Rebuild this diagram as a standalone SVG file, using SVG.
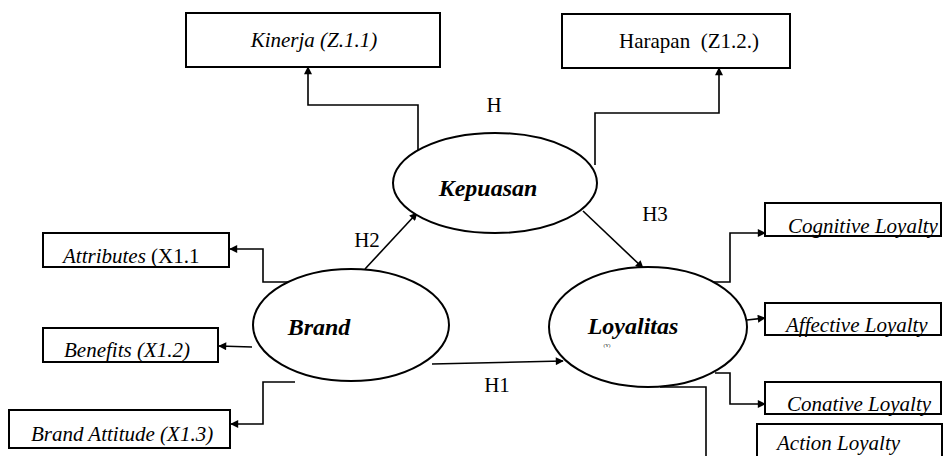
<svg xmlns="http://www.w3.org/2000/svg" width="944" height="456" viewBox="0 0 944 456">
  <defs>
    <marker id="arrow" viewBox="0 0 10 10" refX="9" refY="5" markerWidth="9" markerHeight="8" markerUnits="userSpaceOnUse" orient="auto">
      <path d="M0,0 L10,5 L0,10 z" fill="#000"/>
    </marker>
    <style>
      .box { fill: #fff; stroke: #000; stroke-width: 2; }
      .ell { fill: #fff; stroke: #000; stroke-width: 2; }
      .conn { fill: none; stroke: #000; stroke-width: 1.6; marker-end: url(#arrow); }
      .t { font-family: "Liberation Serif", "Times New Roman", serif; font-size: 21px; fill: #000; }
      .i { font-style: italic; }
      .b { font-weight: bold; font-style: italic; font-size: 24px; }
    </style>
  </defs>

  <!-- connectors -->
  <g id="connectors">
    <path class="conn" d="M418,151 V105 H308 V67"/>
    <path class="conn" d="M595,165 V113 H719 V68"/>
    <path class="conn" d="M365,269 L417,213"/>
    <path class="conn" d="M583,211 L643,268"/>
    <path class="conn" d="M432,364 L563,361"/>
    <path class="conn" d="M290,282 H263 V249 H230"/>
    <path class="conn" d="M252,347 L219,346"/>
    <path class="conn" d="M295,382 H263 V424 H231"/>
    <path class="conn" d="M710,282 H730 V233 H765"/>
    <path class="conn" d="M747,320 L765,318"/>
    <path class="conn" d="M715,373 H730 V404 H765"/>
    <path class="conn" d="M660,387 H706 V460 H757"/>
  </g>

  <!-- indicator boxes -->
  <g id="kinerja">
    <rect class="box" x="186" y="13" width="254" height="54"/>
    <text class="t i" x="314" y="47" text-anchor="middle">Kinerja (Z.1.1)</text>
  </g>
  <g id="harapan">
    <rect class="box" x="562" y="14" width="228" height="54"/>
    <text class="t" x="689" y="48" text-anchor="middle" xml:space="preserve">Harapan  (Z1.2.)</text>
  </g>
  <g id="attributes">
    <rect class="box" x="43" y="233" width="186" height="34"/>
    <text class="t" x="63" y="263"><tspan class="i">Attributes </tspan>(X1.1</text>
  </g>
  <g id="benefits">
    <rect class="box" x="43" y="328" width="175" height="34"/>
    <text class="t i" x="64" y="357">Benefits (X1.2)</text>
  </g>
  <g id="brand-attitude">
    <rect class="box" x="9" y="410" width="221" height="38"/>
    <text class="t i" x="31" y="441">Brand Attitude (X1.3)</text>
  </g>
  <g id="cognitive">
    <rect class="box" x="765" y="203" width="176" height="33"/>
    <text class="t i" x="788" y="233">Cognitive Loyalty</text>
  </g>
  <g id="affective">
    <rect class="box" x="765" y="303" width="176" height="32"/>
    <text class="t i" x="786" y="332">Affective Loyalty</text>
  </g>
  <g id="conative">
    <rect class="box" x="765" y="382" width="176" height="32"/>
    <text class="t i" x="787" y="411">Conative Loyalty</text>
  </g>
  <g id="action">
    <rect class="box" x="757" y="424" width="185" height="40"/>
    <text class="t i" x="777" y="450">Action Loyalty</text>
  </g>

  <!-- latent constructs -->
  <g id="kepuasan">
    <ellipse class="ell" cx="495" cy="183" rx="102" ry="50"/>
    <text class="t b" x="488" y="196" text-anchor="middle">Kepuasan</text>
  </g>
  <g id="brand">
    <ellipse class="ell" cx="351" cy="325" rx="98" ry="56"/>
    <text class="t b" x="319" y="335" text-anchor="middle">Brand</text>
  </g>
  <g id="loyalitas">
    <ellipse class="ell" cx="648" cy="327" rx="99" ry="60"/>
    <text class="t b" x="633" y="334" text-anchor="middle">Loyalitas</text>
    <text class="t" x="607" y="347" text-anchor="middle" style="font-size:5px">(Y)</text>
  </g>

  <!-- hypothesis labels -->
  <g id="labels">
    <text class="t" x="494" y="112" text-anchor="middle">H</text>
    <text class="t" x="655" y="221" text-anchor="middle">H3</text>
    <text class="t" x="367" y="247" text-anchor="middle">H2</text>
    <text class="t" x="497" y="392" text-anchor="middle">H1</text>
  </g>
</svg>
